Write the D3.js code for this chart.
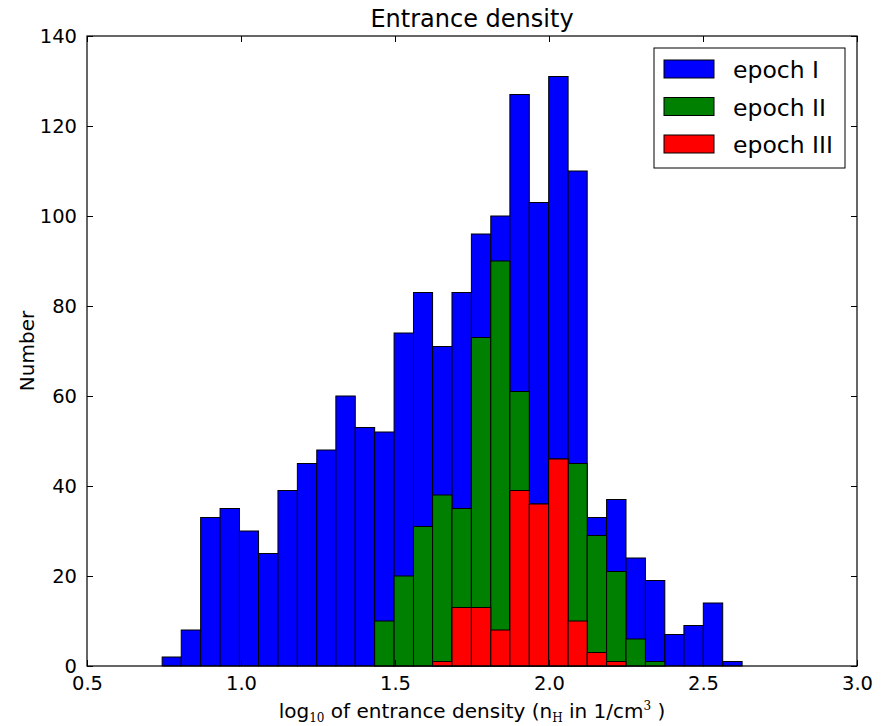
<!DOCTYPE html>
<html>
<head>
<meta charset="utf-8">
<script src="https://cdn.jsdelivr.net/npm/d3@7/dist/d3.min.js"></script>
<style>
  html, body { margin: 0; padding: 0; background: #fff; }
  svg { display: block; }
  text { font-family: "DejaVu Sans", sans-serif; fill: #000; }
</style>
</head>
<body>
<svg id="chart" width="890" height="726"></svg>
<script>
// Histogram bin edges (log10 n_H), shared by all three epochs
const binEdges = [0.555, 0.618, 0.681, 0.744, 0.806, 0.869, 0.932, 0.995, 1.057, 1.120,
                  1.183, 1.246, 1.308, 1.371, 1.434, 1.497, 1.560, 1.622, 1.685, 1.748,
                  1.811, 1.873, 1.936, 1.999, 2.062, 2.124, 2.187, 2.250, 2.313, 2.376,
                  2.438, 2.501, 2.564, 2.627, 2.689, 2.752, 2.815, 2.878, 2.940];

// Counts per bin
const epochI   = [0, 0, 0, 2, 8, 33, 35, 30, 25, 39, 45, 48, 60, 53, 52, 74, 83, 71, 83, 96,
                  100, 127, 103, 131, 110, 33, 37, 24, 19, 7, 9, 14, 1, 0, 0, 0, 0, 0];
const epochII  = [0, 0, 0, 0, 0, 0, 0, 0, 0, 0, 0, 0, 0, 0, 10, 20, 31, 38, 35, 73,
                  90, 61, 36, 46, 45, 29, 21, 6, 1, 0, 0, 0, 0, 0, 0, 0, 0, 0];
const epochIII = [0, 0, 0, 0, 0, 0, 0, 0, 0, 0, 0, 0, 0, 0, 0, 0, 0, 1, 13, 13,
                  8, 39, 36, 46, 10, 3, 1, 0, 0, 0, 0, 0, 0, 0, 0, 0, 0, 0];

const seriesNames  = ["epoch I", "epoch II", "epoch III"];
const seriesColors = ["#0000ff", "#008000", "#ff0000"];
const seriesValues = [epochI, epochII, epochIII];

const xTicks = [0.5, 1.0, 1.5, 2.0, 2.5, 3.0];
const yTicks = [0, 20, 40, 60, 80, 100, 120, 140];

const svg = d3.select("#chart");
const m = { left: 87, right: 857, top: 36, bottom: 666 };

const x = d3.scaleLinear().domain([0.5, 3.0]).range([m.left, m.right]);
const y = d3.scaleLinear().domain([0, 140]).range([m.bottom, m.top]);

// Bars: each epoch drawn on top of the previous one
seriesValues.forEach((vals, s) => {
  svg.append("g")
    .selectAll("rect")
    .data(vals.map((v, i) => ({ v, x0: binEdges[i], x1: binEdges[i + 1] })).filter(d => d.v > 0))
    .join("rect")
    .attr("x", d => x(d.x0))
    .attr("width", d => x(d.x1) - x(d.x0))
    .attr("y", d => y(d.v))
    .attr("height", d => y(0) - y(d.v))
    .attr("fill", seriesColors[s])
    .attr("stroke", "#000")
    .attr("stroke-width", 1);
});

// Axes with inward ticks on all four sides
const tickLen = 6;
const fmtX = d3.format(".1f");
const axBottom = d3.axisBottom(x).tickValues(xTicks).tickFormat(fmtX).tickSizeInner(-tickLen).tickSizeOuter(0).tickPadding(10);
const axTop    = d3.axisTop(x).tickValues(xTicks).tickFormat("").tickSizeInner(-tickLen).tickSizeOuter(0);
const axLeft   = d3.axisLeft(y).tickValues(yTicks).tickSizeInner(-tickLen).tickSizeOuter(0).tickPadding(10);
const axRight  = d3.axisRight(y).tickValues(yTicks).tickFormat("").tickSizeInner(-tickLen).tickSizeOuter(0);

function styleAxis(g) {
  g.select(".domain").remove();
  g.selectAll(".tick line").attr("stroke", "#000").attr("stroke-width", 1);
  g.selectAll(".tick text").attr("font-family", "DejaVu Sans, sans-serif").attr("font-size", 19.5).attr("fill", "#000");
}
svg.append("g").attr("transform", `translate(0,${m.bottom})`).call(axBottom).call(styleAxis);
svg.append("g").attr("transform", `translate(0,${m.top})`).call(axTop).call(styleAxis);
svg.append("g").attr("transform", `translate(${m.left},0)`).call(axLeft).call(styleAxis);
svg.append("g").attr("transform", `translate(${m.right},0)`).call(axRight).call(styleAxis);

// Frame
svg.append("rect")
  .attr("x", m.left).attr("y", m.top)
  .attr("width", m.right - m.left).attr("height", m.bottom - m.top)
  .attr("fill", "none").attr("stroke", "#000").attr("stroke-width", 1.2);

// Title
svg.append("text")
  .attr("x", (m.left + m.right) / 2).attr("y", 27)
  .attr("text-anchor", "middle").attr("font-size", 24)
  .text("Entrance density");

// Y label
svg.append("text")
  .attr("transform", `translate(34,${(m.top + m.bottom) / 2}) rotate(-90)`)
  .attr("text-anchor", "middle").attr("font-size", 20)
  .text("Number");

// X label with sub/superscripts
const xl = svg.append("text")
  .attr("x", (m.left + m.right) / 2).attr("y", 718)
  .attr("text-anchor", "middle").attr("font-size", 20);
xl.append("tspan").text("log");
xl.append("tspan").attr("font-family", "DejaVu Serif, serif").attr("font-size", 12).attr("dy", 4).text("10");
xl.append("tspan").attr("dy", -4).text(" of entrance density (n");
xl.append("tspan").attr("font-family", "DejaVu Serif, serif").attr("font-size", 12).attr("dy", 4).text("H");
xl.append("tspan").attr("dy", -4).text(" in 1/cm");
xl.append("tspan").attr("font-family", "DejaVu Serif, serif").attr("font-size", 12).attr("dy", -8).text("3");
xl.append("tspan").attr("dy", 8).text(" )");

// Legend
const lg = svg.append("g");
lg.append("rect")
  .attr("x", 654).attr("y", 48).attr("width", 191).attr("height", 120)
  .attr("fill", "#fff").attr("stroke", "#000").attr("stroke-width", 1);
seriesNames.forEach((name, i) => {
  const yy = 60 + i * 37.5;
  lg.append("rect")
    .attr("x", 664).attr("y", yy).attr("width", 50).attr("height", 18)
    .attr("fill", seriesColors[i]).attr("stroke", "#000").attr("stroke-width", 1);
  lg.append("text")
    .attr("x", 733).attr("y", yy + 18)
    .attr("font-size", 23.5)
    .text(name);
});
</script>
</body>
</html>
